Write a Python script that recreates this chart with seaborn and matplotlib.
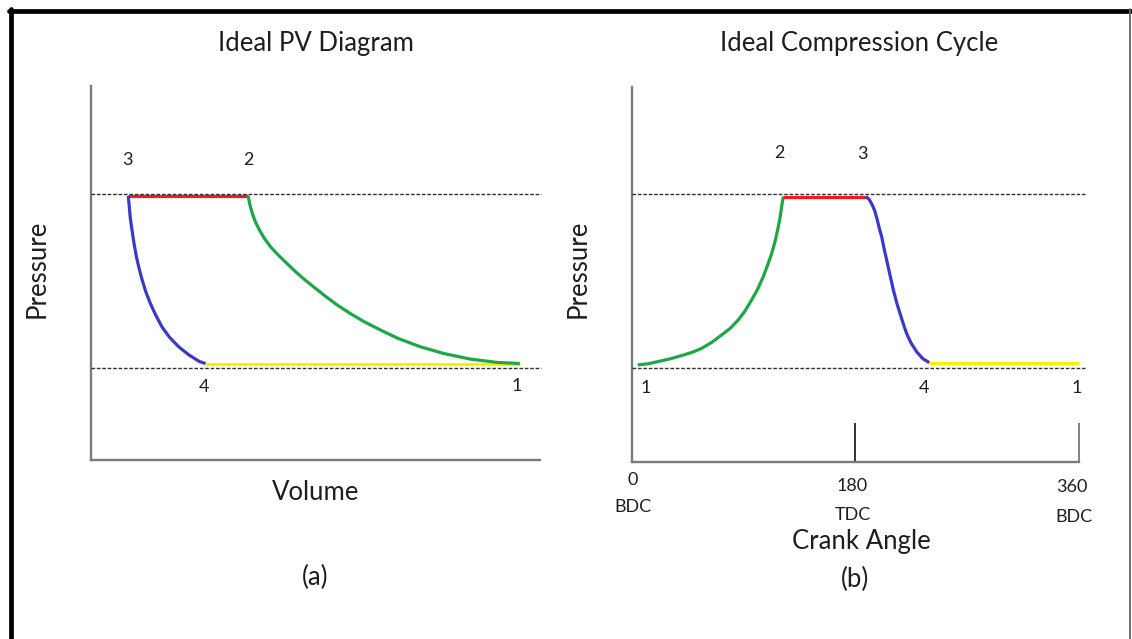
import matplotlib
matplotlib.use("Agg")
import matplotlib.pyplot as plt
from matplotlib.lines import Line2D
import seaborn as sns

# ---- Ideal PV diagram (pressure vs volume) ----
pv_blue_v = [0.83, 0.853, 0.876, 0.913, 0.958, 1.01, 1.07, 1.14, 1.22, 1.32, 1.44,
             1.58, 1.75, 1.95, 2.18, 2.42, 2.55]
pv_blue_p = [7.06, 6.77, 6.46, 6.15, 5.79, 5.44, 5.13, 4.81, 4.50, 4.19, 3.88,
             3.56, 3.28, 3.03, 2.81, 2.63, 2.58]
pv_green_v = [3.50, 3.54, 3.59, 3.66, 3.75, 3.86, 4.00, 4.17, 4.36, 4.56, 4.77, 5.00,
              5.23, 5.49, 5.77, 6.08, 6.44, 6.84, 7.33, 7.85, 8.44, 9.04, 9.55]
pv_green_p = [7.06, 6.82, 6.60, 6.37, 6.15, 5.93, 5.70, 5.48, 5.26, 5.03, 4.81, 4.59,
              4.37, 4.14, 3.92, 3.70, 3.48, 3.25, 3.03, 2.85, 2.70, 2.61, 2.58]
pv_red_v = [0.83, 3.50]
pv_red_p = [7.06, 7.06]
pv_yellow_v = [2.55, 9.55]
pv_yellow_p = [2.58, 2.58]
pv_levels = [7.10, 2.47]
pv_states = ["1", "2", "3", "4"]
pv_state_v = [9.55, 3.50, 0.83, 2.55]
pv_state_p = [2.58, 7.06, 7.06, 2.58]

# ---- Ideal compression cycle (pressure vs crank angle) ----
ca_green_t = [4.4, 13.0, 21.1, 30.5, 39.9, 48.0, 56.0, 64.1, 72.2, 78.9, 85.6,
              91.0, 96.3, 101.2, 105.7, 109.2, 112.5, 115.2, 117.3, 119.2, 120.5, 121.9]
ca_green_p = [2.59, 2.62, 2.68, 2.75, 2.84, 2.92, 3.03, 3.19, 3.39, 3.56, 3.79,
              4.03, 4.32, 4.61, 4.94, 5.25, 5.56, 5.88, 6.19, 6.50, 6.81, 7.08]
ca_red_t = [121.9, 188.5]
ca_red_p = [7.08, 7.08]
ca_blue_t = [188.5, 191.2, 193.7, 195.8, 197.7, 199.3, 201.2, 203.1, 205.2, 207.9,
             210.6, 213.3, 216.0, 218.7, 221.3, 224.8, 229.4, 234.2, 239.6]
ca_blue_p = [7.08, 7.00, 6.85, 6.68, 6.45, 6.23, 6.01, 5.70, 5.39, 4.99,
             4.59, 4.25, 3.96, 3.68, 3.43, 3.18, 2.94, 2.76, 2.65]
ca_yellow_t = [239.6, 360]
ca_yellow_p = [2.65, 2.65]
ca_levels = [7.15, 2.51]
ca_states = ["1", "2", "3", "4", "1"]
ca_state_t = [4.4, 121.9, 188.5, 239.6, 360]
ca_state_p = [2.59, 7.08, 7.08, 2.65, 2.65]
ca_ticks = [0, 180, 360]
ca_tick_nums = ["0", "180", "360"]
ca_tick_names = ["BDC", "TDC", "BDC"]

RED = "#ec1c24"
BLUE = "#3a3ac6"
GREEN = "#1fa646"
YELLOW = "#f8f000"
SPINE = "#7a7a7a"
TXT = "#1e1e1e"

sns.set_style("white")
plt.rcParams["font.family"] = ["Lato", "DejaVu Sans"]

W, H = 1132, 639
fig = plt.figure(figsize=(W / 100, H / 100), dpi=100)


def fx(px):
    return px / W


def fy(py):
    return 1 - py / H


ax1 = fig.add_axes([fx(91), fy(460), fx(449), 374 / H])
ax2 = fig.add_axes([fx(632.2), fy(462), fx(453.8), 375 / H])

LW = 2.3
BIG = 18.5
SMALL = 13


def style_axes(ax):
    for side in ("top", "right"):
        ax.spines[side].set_visible(False)
    for side in ("left", "bottom"):
        ax.spines[side].set_color(SPINE)
        ax.spines[side].set_linewidth(1.7)
    ax.set_xticks([])
    ax.set_yticks([])
    ax.set_xlabel("")
    ax.set_ylabel("")
    ax.patch.set_alpha(0)


def seg(ax, x, y, color):
    sns.lineplot(x=x, y=y, ax=ax, color=color, linewidth=LW, sort=False,
                 estimator=None, solid_capstyle="butt", legend=False)


# PV panel
seg(ax1, pv_red_v, pv_red_p, RED)
seg(ax1, pv_yellow_v, pv_yellow_p, YELLOW)
seg(ax1, pv_blue_v, pv_blue_p, BLUE)
seg(ax1, pv_green_v, pv_green_p, GREEN)
ax1.hlines(pv_levels, 0, 10.03, colors="#303030", linewidth=1.0,
           linestyles=(0, (2.6, 1.3)), clip_on=False, zorder=5)
ax1.set_xlim(0, 10)
ax1.set_ylim(0, 10)
style_axes(ax1)

pv_offsets = [(-3, -22.5), (0, 36), (-1, 36), (-1, -23.5)]
for lab, v, p, off in zip(pv_states, pv_state_v, pv_state_p, pv_offsets):
    ax1.annotate(lab, (v, p), xytext=off, textcoords="offset pixels",
                 ha="center", va="center", fontsize=SMALL, color=TXT)

# Crank-angle panel
seg(ax2, ca_green_t, ca_green_p, GREEN)
seg(ax2, ca_red_t, ca_red_p, RED)
seg(ax2, ca_blue_t, ca_blue_p, BLUE)
seg(ax2, ca_yellow_t, ca_yellow_p, YELLOW)
ax2.hlines(ca_levels, 0, 365.5, colors="#303030", linewidth=1.0,
           linestyles=(0, (2.6, 1.3)), zorder=5)
ax2.set_xlim(0, 366)
ax2.set_ylim(0, 10)
style_axes(ax2)
ax2.spines["bottom"].set_bounds(0, 360)
ax2.vlines(ca_ticks[1:], 0, 1.04, colors=["#222222", SPINE], linewidth=1.3)

ca_offsets = [(8, -23), (-4, 43.5), (-3, 42.5), (-5, -25.4), (-2, -25.4)]
for lab, t, p, off in zip(ca_states, ca_state_t, ca_state_p, ca_offsets):
    ax2.annotate(lab, (t, p), xytext=off, textcoords="offset pixels",
                 ha="center", va="center", fontsize=SMALL, color=TXT)

num_off = [(0, -18), (-3, -24), (-6.6, -25)]
name_off = [(1, -45), (-3, -53), (-4.6, -55)]
for t, num, name, o1, o2 in zip(ca_ticks, ca_tick_nums, ca_tick_names, num_off, name_off):
    ax2.annotate(num, (t, 0), xytext=o1, textcoords="offset pixels",
                 ha="center", va="center", fontsize=SMALL, color=TXT,
                 annotation_clip=False)
    ax2.annotate(name, (t, 0), xytext=o2, textcoords="offset pixels",
                 ha="center", va="center", fontsize=SMALL, color=TXT,
                 annotation_clip=False)

# Titles and captions
fig.text(fx(316), fy(44), "Ideal PV Diagram", ha="center", va="center", fontsize=BIG, color=TXT)
fig.text(fx(859), fy(44), "Ideal Compression Cycle", ha="center", va="center", fontsize=BIG, color=TXT)
fig.text(fx(316), fy(493), "Volume", ha="center", va="center", fontsize=BIG, color=TXT)
fig.text(fx(861), fy(541), "Crank Angle", ha="center", va="center", fontsize=BIG, color=TXT)
fig.text(fx(315), fy(577), "(a)", ha="center", va="center", fontsize=BIG, color=TXT)
fig.text(fx(855.5), fy(579), "(b)", ha="center", va="center", fontsize=BIG, color=TXT)
fig.text(fx(37), fy(269), "Pressure", ha="center", va="center", rotation=90, fontsize=BIG, color=TXT)
fig.text(fx(578), fy(269), "Pressure", ha="center", va="center", rotation=90, fontsize=BIG, color=TXT)

# Frame around the figure
fig.add_artist(Line2D([fx(10.8), fx(10.8)], [fy(8.5), 0], color="black", linewidth=3.4,
                      transform=fig.transFigure))
fig.add_artist(Line2D([fx(8.5), 1], [fy(10.5), fy(10.5)], color="black", linewidth=3.4,
                      transform=fig.transFigure))
fig.add_artist(Line2D([fx(1130.2), fx(1130.2)], [fy(9), 0], color="#666666", linewidth=1.3,
                      transform=fig.transFigure))

fig.savefig("out.png", dpi=100, facecolor="white")
